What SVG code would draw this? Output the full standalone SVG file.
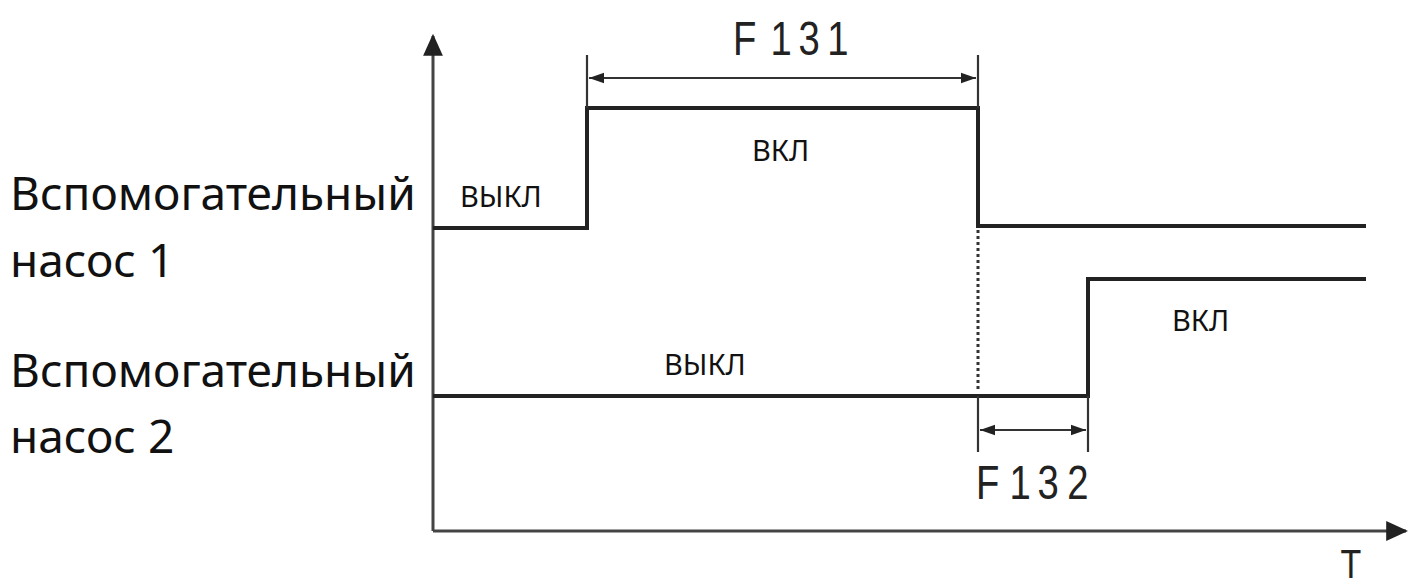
<svg xmlns="http://www.w3.org/2000/svg" width="1408" height="588" viewBox="0 0 1408 588">
<style>
.lbl{font-family:"Noto Sans","Open Sans",sans-serif;font-size:46px;fill:#111}
.st{font-family:"Noto Sans","Open Sans",sans-serif;font-size:29px;fill:#111}
.dim{font-family:"Liberation Sans",Arial,sans-serif;font-size:49px;fill:#222}
.sig{fill:none;stroke:#222;stroke-width:4}
.ax{fill:none;stroke:#444;stroke-width:3}
.dl{fill:none;stroke:#333;stroke-width:2.2}
</style>
<defs>
<marker id="axh" viewBox="0 0 10 10" refX="9" refY="5" markerWidth="22" markerHeight="22" orient="auto" markerUnits="userSpaceOnUse">
<path d="M0,0.5 L10,5 L0,9.5 Z" fill="#222"/>
</marker>
<marker id="dh" viewBox="0 0 10 10" refX="10" refY="5" markerWidth="15" markerHeight="15" orient="auto-start-reverse" markerUnits="userSpaceOnUse">
<path d="M0,1.5 L10,5 L0,8.5 Z" fill="#222"/>
</marker>
</defs>
<g id="connectors">
<path class="ax" d="M433,531 V36" marker-end="url(#axh)"/>
<path class="ax" d="M433,531 H1406" marker-end="url(#axh)"/>
<path class="sig" d="M433,228 H587 V108 H978 V226 H1366"/>
<path class="sig" d="M433,396 H1088 V279 H1366"/>
<path d="M978,230 V392" fill="none" stroke="#333" stroke-width="3" stroke-dasharray="3,3"/>
<path class="dl" d="M587,55 V108 M978,55 V108"/>
<path class="dl" d="M589,78 H976" marker-start="url(#dh)" marker-end="url(#dh)"/>
<path class="dl" d="M978,396 V452 M1088,396 V452"/>
<path class="dl" d="M980,430 H1086" marker-start="url(#dh)" marker-end="url(#dh)"/>
</g>
<g id="pump1-label"><text class="lbl" x="10" y="210">Вспомогательный</text><text class="lbl" x="10" y="277">насос 1</text></g>
<g id="pump2-label"><text class="lbl" x="10" y="387">Вспомогательный</text><text class="lbl" x="10" y="453">насос 2</text></g>
<g id="state1-off"><text class="st" x="460" y="207">ВЫКЛ</text></g>
<g id="state1-on"><text class="st" x="752" y="161">ВКЛ</text></g>
<g id="state2-off"><text class="st" x="664" y="375">ВЫКЛ</text></g>
<g id="state2-on"><text class="st" x="1172" y="331">ВКЛ</text></g>
<g id="F131"><text class="dim" transform="translate(733,55) scale(0.78,1)"><tspan x="0">F</tspan><tspan x="48">1</tspan><tspan x="84">3</tspan><tspan x="121">1</tspan></text></g>
<g id="F132"><text class="dim" transform="translate(976,499) scale(0.78,1)"><tspan x="0">F</tspan><tspan x="43">1</tspan><tspan x="79">3</tspan><tspan x="117">2</tspan></text></g>
<g id="T"><text class="dim" style="font-size:40px" text-anchor="middle" transform="translate(1351,578) scale(0.85,1)">T</text></g>
</svg>
